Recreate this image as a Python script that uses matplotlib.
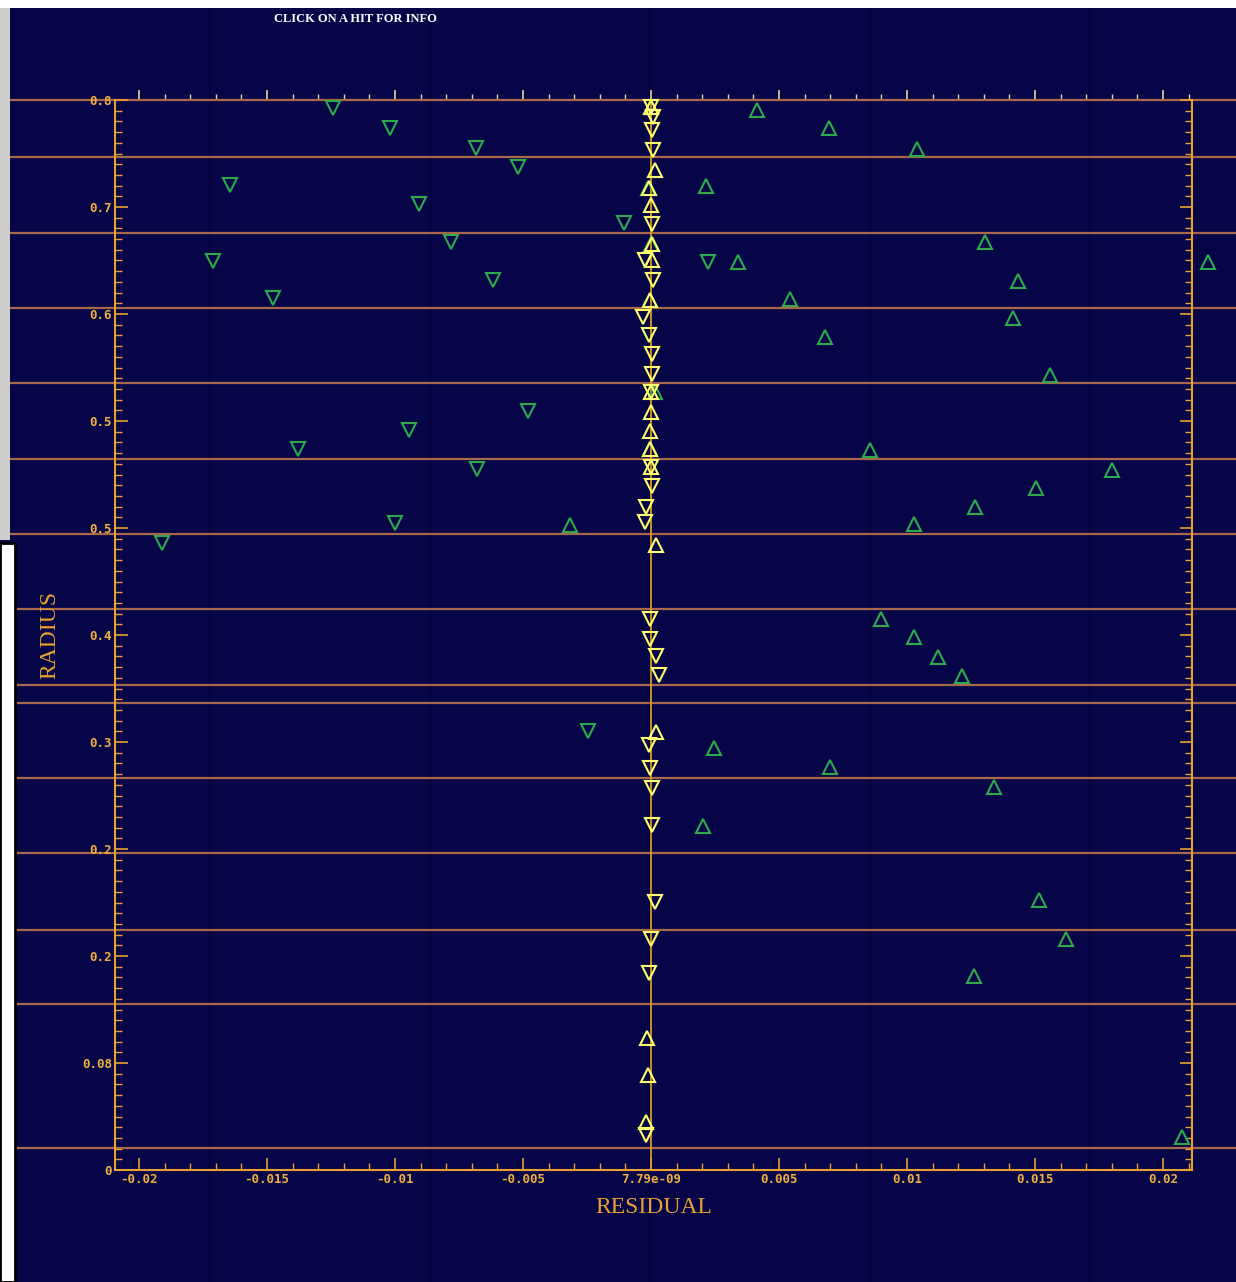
import matplotlib
matplotlib.use("Agg")
import matplotlib.pyplot as plt
from matplotlib.lines import Line2D
from matplotlib.patches import Rectangle
from matplotlib.ticker import FixedLocator, MultipleLocator


# DATA #
# residual / radius of hits near the fitted track (yellow) and the rest (green)
yellow_up_res = [0.0, 0.00016, -0.00008, 0.0, 0.00004, 0.00004, -0.00004, 0.0, 0.0,
                 -0.00004, -0.00004, 0.0, 0.00020, 0.00020, -0.00016, -0.00012, -0.00020]
yellow_up_rad = [0.7948, 0.7477, 0.7342, 0.7215, 0.6923, 0.6804, 0.6505, 0.5817, 0.5667,
                 0.5525, 0.5391, 0.5256, 0.4673, 0.3275, 0.0987, 0.0710, 0.0359]

yellow_dn_res = [0.0, 0.00008, 0.00004, 0.00008, 0.00004, -0.00023, 0.00008, -0.00031,
                 -0.00008, 0.00004, 0.00004, 0.0, 0.0, 0.00004, -0.00020, -0.00023,
                 -0.00004, -0.00004, 0.00020, 0.00031, -0.00008, -0.00004, 0.00004,
                 0.00004, 0.00016, 0.0, -0.00008, -0.00020]
yellow_dn_rad = [0.7948, 0.7873, 0.7776, 0.7626, 0.7073, 0.6804, 0.6654, 0.6378,
                 0.6243, 0.6101, 0.5951, 0.5817, 0.5256, 0.5114, 0.4957, 0.4845,
                 0.4120, 0.3970, 0.3843, 0.3701, 0.3178, 0.3006, 0.2856,
                 0.2579, 0.2004, 0.1727, 0.1473, 0.0262]

green_dn_res = [-0.01242, -0.01019, -0.00684, -0.00520, -0.01644, -0.00906, -0.00105,
                -0.00781, -0.01711, 0.00223, -0.00617, -0.01477, -0.00480, -0.00945,
                -0.01379, -0.00680, -0.01000, -0.01910, -0.00246]
green_dn_rad = [0.7940, 0.7791, 0.7641, 0.7499, 0.7364, 0.7222, 0.7080,
                0.6938, 0.6796, 0.6789, 0.6654, 0.6520, 0.5675, 0.5533,
                0.5391, 0.5241, 0.4837, 0.4688, 0.3282]

green_up_res = [0.00414, 0.00695, 0.01039, 0.00215, 0.00340, 0.01305, 0.01434, 0.02176,
                0.00543, 0.01414, 0.00680, 0.01559, 0.00855, 0.01801, 0.01504, 0.01266,
                0.01027, -0.00316, 0.00898, 0.01027, 0.01121, 0.01215, 0.00246, 0.00699,
                0.01340, 0.00203, 0.01516, 0.01621, 0.01262, 0.02074,
                -0.00012, -0.00004, -0.00004, 0.00016, 0.0]
green_up_rad = [0.7925, 0.7791, 0.7634, 0.7357, 0.6789, 0.6938, 0.6647, 0.6789,
                0.6512, 0.6370, 0.6228, 0.5944, 0.5383, 0.5234, 0.5099, 0.4957,
                0.4830, 0.4822, 0.4120, 0.3985, 0.3836, 0.3693, 0.3155, 0.3013,
                0.2864, 0.2572, 0.2019, 0.1727, 0.1450, 0.0247,
                0.7342, 0.6505, 0.5391, 0.5817, 0.6923]

x_ticks = [-0.02, -0.015, -0.01, -0.005, 0.0, 0.005, 0.01, 0.015, 0.02]
x_tick_labels = ["-0.02", "-0.015", "-0.01", "-0.005", "7.79e-09",
                 "0.005", "0.01", "0.015", "0.02"]
y_ticks = [0.0, 0.08, 0.16, 0.24, 0.32, 0.40, 0.48, 0.56, 0.64, 0.72, 0.80]
y_tick_labels = ["0", "0.08", "0.2", "0.2", "0.3", "0.4", "0.5", "0.5", "0.6", "0.7", "0.8"]

# screen row separators running across the whole window
row_lines = [0.8, 0.7574, 0.7006, 0.6445, 0.5884, 0.5316, 0.4755, 0.4194,
             0.3626, 0.3492, 0.2931, 0.2370, 0.1794, 0.1241, 0.0164]


# COLOURS #
NAVY = '#050548'
ORANGE = '#e8a030'
LABEL = '#f0b040'
ROWLINE = '#a8684a'
YELLOW = '#ffff70'
GREEN = '#2eaa4c'

W, H = 1236, 1282
fig = plt.figure(figsize=(W/100, H/100), dpi=100, facecolor=NAVY)
ax = fig.add_axes([115/W, 112/H, (1192-115)/W, (1170-100)/H])
ax.set_facecolor('none')

ax.set_xlim(-0.020938, 0.021133)
ax.set_ylim(0, 0.8)

# faint dark column streaks of the display
for px in [210, 430, 650, 870, 1090]:
    fig.add_artist(Line2D([px/W, px/W], [0, 1 - 8/H], color='#000018', lw=1.5,
                          alpha=0.35, zorder=-2))

for yv in row_lines:
    ax.axhline(yv, xmin=-0.11, xmax=1.05, color=ROWLINE, lw=1.6, clip_on=False, zorder=0.5)

ax.axvline(0, color='#d89a20', lw=1.3, zorder=1)

mk = dict(linestyle='none', markersize=9.5, markerfacecolor='none', markeredgewidth=1.5,
          clip_on=False)
ax.plot(green_dn_res, green_dn_rad, marker='v', markeredgecolor=GREEN, zorder=2, **mk)
ax.plot(green_up_res, green_up_rad, marker='^', markeredgecolor=GREEN, zorder=2, **mk)
ax.plot(yellow_dn_res, yellow_dn_rad, marker='v', markeredgecolor=YELLOW, zorder=3, **mk)
ax.plot(yellow_up_res, yellow_up_rad, marker='^', markeredgecolor=YELLOW, zorder=3, **mk)

# Axis settings
for side in ['left', 'right', 'bottom']:
    ax.spines[side].set_color(ORANGE)
    ax.spines[side].set_linewidth(1.5)
ax.spines['top'].set_visible(False)

ax.xaxis.set_major_locator(FixedLocator(x_ticks))
ax.xaxis.set_minor_locator(MultipleLocator(0.001))
ax.set_xticklabels(x_tick_labels)
ax.yaxis.set_major_locator(FixedLocator(y_ticks))
ax.yaxis.set_minor_locator(MultipleLocator(0.008))
ax.set_yticklabels(y_tick_labels)

tick_font = dict(family='DejaVu Sans Mono', weight='bold', size=9)
ax.tick_params(axis='x', which='both', direction='in', bottom=True, top=False,
               colors=ORANGE, labelcolor=LABEL, pad=2)
ax.tick_params(axis='y', which='both', direction='in', left=True, right=True,
               colors=ORANGE, labelcolor=LABEL, pad=2)
ax.tick_params(which='major', length=9, width=1.2)
ax.tick_params(which='minor', length=5, width=1.0)
for lab in ax.get_xticklabels() + ax.get_yticklabels():
    lab.set_fontproperties(tick_font)

top = ax.secondary_xaxis('top')
top.xaxis.set_major_locator(FixedLocator(x_ticks))
top.xaxis.set_minor_locator(MultipleLocator(0.001))
top.tick_params(which='both', direction='out', labeltop=False, colors='#e8d0a0')
top.tick_params(which='major', length=7, width=1.2)
top.tick_params(which='minor', length=4, width=1.0)
top.spines['top'].set_visible(False)

ax.set_xlabel("RESIDUAL", family='Liberation Serif', size=17, color=ORANGE, labelpad=8)
ax.set_ylabel("RADIUS", family='Liberation Serif', size=17, color=ORANGE)
ax.yaxis.set_label_coords((60 - 115)/1077, 0.5)
fig.text(355/W, 1 - 19/H, "CLICK ON A HIT FOR INFO", family='Liberation Serif',
         weight='bold', size=9, color='white', ha='center', va='center')

# window frame pieces at the left edge
fig.add_artist(Rectangle((0, 1 - 8/H), 1, 8/H, transform=fig.transFigure,
                         facecolor='white', edgecolor='none', zorder=5))
fig.add_artist(Rectangle((0, 1 - 540/H), 10/W, 532/H, transform=fig.transFigure,
                         facecolor='#cfcccc', edgecolor='none', zorder=5))
fig.add_artist(Rectangle((0, 0), 15/W, 1 - 543/H, transform=fig.transFigure,
                         facecolor='white', edgecolor='black', lw=2, zorder=5))

fig.savefig("out.png", dpi=100, facecolor=NAVY)
